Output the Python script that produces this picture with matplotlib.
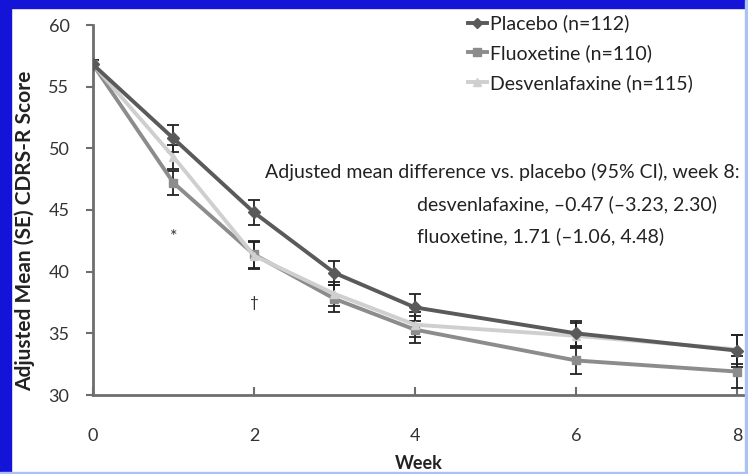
import matplotlib
matplotlib.use('Agg')
import matplotlib.pyplot as plt
from matplotlib.patches import Rectangle

plt.rcParams['font.family'] = ['Lato', 'DejaVu Sans']

# CDRS-R adjusted means by week
weeks = [0, 1, 2, 3, 4, 6, 8]
placebo = [56.8, 50.8, 44.8, 39.9, 37.1, 35.0, 33.6]
placebo_se = [0.4, 1.1, 1.0, 1.0, 1.1, 1.0, 1.3]
fluoxetine = [56.8, 47.2, 41.4, 37.8, 35.3, 32.8, 31.9]
fluoxetine_se = [0.4, 1.0, 1.1, 1.1, 1.1, 1.1, 1.3]
desvenlafaxine = [56.8, 49.3, 41.3, 38.2, 35.7, 34.8, 33.7]
desvenlafaxine_se = [0.4, 1.0, 1.1, 1.0, 1.0, 1.0, 1.2]

labels = ["Placebo (n=112)", "Fluoxetine (n=110)", "Desvenlafaxine (n=115)"]
xticks = [0, 2, 4, 6, 8]
yticks = [30, 35, 40, 45, 50, 55, 60]

fig = plt.figure(figsize=(7.48, 4.74), dpi=100)
fig.patch.set_facecolor("white")

# blue frame around the slide
fig.patches.append(Rectangle((0, 1 - 8 / 474), 1, 8 / 474, transform=fig.transFigure,
                             color="#1414d8", zorder=0))
fig.patches.append(Rectangle((0, 0), 11 / 748, 1, transform=fig.transFigure,
                             color="#1414d8", zorder=0))
fig.patches.append(Rectangle((1 - 3 / 748, 0), 3 / 748, 1, transform=fig.transFigure,
                             color="#a9c1f5", zorder=0))
fig.patches.append(Rectangle((0, 0), 1, 2 / 474, transform=fig.transFigure,
                             color="#a9c1f5", zorder=0))

ax = fig.add_axes([93 / 748, 79 / 474, 652 / 748, 370 / 474])

series = [
    (fluoxetine, fluoxetine_se, "#8c8c8c", "s", labels[1]),
    (desvenlafaxine, desvenlafaxine_se, "#cfcfcf", "^", labels[2]),
    (placebo, placebo_se, "#5a5a5a", "D", labels[0]),
]
handles = {}
for vals, se, col, mk, lab in series:
    ax.errorbar(weeks, vals, yerr=se, fmt="none", ecolor="#222222",
                elinewidth=1.3, capsize=4, capthick=1.3, zorder=3)
    h, = ax.plot(weeks, vals, color=col, lw=2.8, marker=mk, markersize=6,
                 markerfacecolor=col, markeredgecolor=col, label=lab, zorder=4)
    handles[lab] = h

# significance markers
ax.text(1, 42.8, "*", ha="center", va="center", fontsize=13, color="#333333")
ax.text(2, 37.5, "\u2020", ha="center", va="center", fontsize=11, color="#333333")

ax.set_xlim(0, 8.1)
ax.set_ylim(30, 60)
ax.set_xticks(xticks)
ax.set_yticks(yticks)
for s in ["top", "right"]:
    ax.spines[s].set_visible(False)
for s in ["left", "bottom"]:
    ax.spines[s].set_color("#6e6e6e")
    ax.spines[s].set_linewidth(2)
ax.tick_params(axis="x", direction="in", length=6, width=1.5, color="#6e6e6e",
               pad=24, labelsize=13, labelcolor="#333333")
ax.tick_params(axis="y", direction="out", length=5, width=1.5, color="#6e6e6e",
               pad=12, labelsize=13, labelcolor="#333333")

ax.set_xlabel("Week", fontsize=13, fontweight="bold", color="#222222", labelpad=8)
fig.text(25 / 748, 1 - 231 / 474, "Adjusted Mean (SE) CDRS-R Score", rotation=90,
         fontsize=15, fontweight="bold", color="#222222", ha="center", va="center")

leg = ax.legend([handles[l] for l in labels], labels, loc="upper left",
                bbox_to_anchor=(458 / 748, 1 - 5 / 474), bbox_transform=fig.transFigure,
                frameon=False, fontsize=14, handlelength=1.0, handletextpad=0.15,
                labelspacing=0.6, borderpad=0, markerscale=0.9)
for t in leg.get_texts():
    t.set_color("#222222")

ax.text(265, 474 - 172, "Adjusted mean difference vs. placebo (95% CI), week 8:",
        transform=None, fontsize=14, color="#222222", va="center", ha="left")
ax.text(417, 474 - 204, "desvenlafaxine, \u20130.47 (\u20133.23, 2.30)",
        transform=None, fontsize=14, color="#222222", va="center", ha="left")
ax.text(417, 474 - 236, "fluoxetine, 1.71 (\u20131.06, 4.48)",
        transform=None, fontsize=14, color="#222222", va="center", ha="left")

fig.savefig("out.png", dpi=100)
